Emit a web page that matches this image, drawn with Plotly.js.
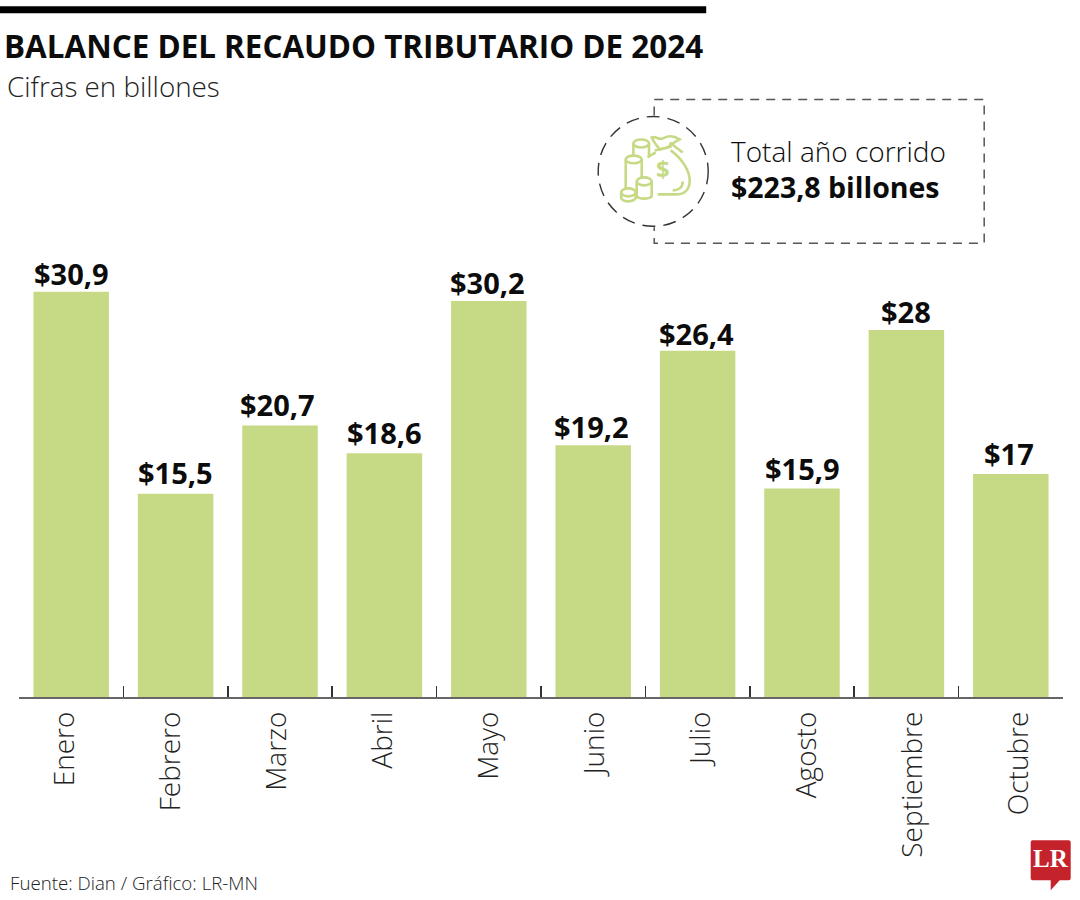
<!DOCTYPE html>
<html><head><meta charset="utf-8">
<script src="https://cdn.plot.ly/plotly-3.0.1.min.js"></script>
<style>html,body{margin:0;padding:0;background:#fff}#c{width:1080px;height:900px}</style>
</head><body><div id="c"></div>
<script>
const months = ["Enero","Febrero","Marzo","Abril","Mayo","Junio","Julio","Agosto","Septiembre","Octubre"];
const values = [30.9,15.5,20.7,18.6,30.2,19.2,26.4,15.9,28,17];
const valueLabels = values.map(v => "$" + String(v).replace(".", ","));
const monthIndex = months.map((m,i) => i);
// small hand-placement offsets of the value labels, in pixels
const labelLift = [1,4,4,3,1,1,0,3,1,3];
const labelNudge = [0,0,-2.5,0.5,-1,-1.5,-1,0,0,-2];
const GREEN = "#c6da85", INK = "#0c0c0c", DASH = "#555555";
const F = "Open Sans";

const L = 19.3, R = 1063.3, T = 106.5, B = 697.5;
const X = p => (p - L) / (R - L);
const Y = p => (B - p) / (B - T);
function P(s){ let i = 0; return s.replace(/-?\d+(\.\d+)?/g, n => { const v = parseFloat(n); const r = (i % 2 === 0) ? X(v) : Y(v); i++; return r.toFixed(5); }); }
const line = (d, color, width, dash, fill) => ({type:"path", xref:"paper", yref:"paper", path:P(d), fillcolor:fill||"rgba(0,0,0,0)", line:{color, width, dash:dash||"solid"}, layer:"above"});
const note = (text, x, y, opts={}) => Object.assign({text, xref:"paper", yref:"paper", x:X(x), y:Y(y), xanchor:"left", yanchor:"middle", showarrow:false, borderpad:0}, opts);
const ell = (cx,cy,rx,ry,c,w) => ({type:"circle", xref:"paper", yref:"paper", x0:X(cx-rx), x1:X(cx+rx), y0:Y(cy+ry), y1:Y(cy-ry), line:{color:c,width:w}, fillcolor:"#fff", layer:"above"});
const IW = 2.6;
const shapes = [
  {type:"rect", xref:"paper", yref:"paper", x0:X(0), x1:X(706.5), y0:Y(12.5), y1:Y(5.5), fillcolor:"#000", line:{width:0}, layer:"above"},
  line("M654.5 115 L654.5 99 L984.5 99 L984.5 243 L654.5 243 L654.5 227", DASH, 1.5, "9px,7px"),
  {type:"circle", xref:"paper", yref:"paper", x0:X(598.5), x1:X(708.5), y0:Y(226), y1:Y(116), line:{color:"#333",width:1.4,dash:"13px,8px"}, layer:"above"},
  // money bag
  line("M671 150 C 682 158 690 170 690 180 C 690 189 685 194 676 194 L 658 194", GREEN, IW),
  line("M656 152 C 653 154 650 155 648 157", GREEN, IW),
  line("M652 137 C 656 135 659 140 663 138 C 667 136 672 134 680 139 C 676 141 672 143 668 147 L 660 149 C 657 145 654 142 652 137 Z", GREEN, IW),
  line("M655 150 L 672 146 M 670 142 L 683 152", GREEN, IW),
  line("M683 181 C 683 187 679 190 673 190", GREEN, IW),
  // coin stacks
  line("M633.7 143 L 633.7 155 M 649.3 143 L 649.3 157", GREEN, IW),
  ell(641.5,143,7.8,4,GREEN,IW),
  line("M626 159 L 626 190 M 642 159 L 642 178", GREEN, IW),
  ell(634,159,8,3.8,GREEN,IW),
  line("M637 181 L 637 196 C 640 199 649 199 652 196 L 652 181", GREEN, IW),
  ell(644.5,181,7.5,4,GREEN,IW),
  line("M621.5 192 L 621.5 198 C 624 202 633 202 636 198 L 636 192", GREEN, IW),
  ell(628.7,192,7.3,4,GREEN,IW),
  // logo
  line("M1033 841 L1069 841 Q1071 841 1071 843 L1071 879 Q1071 881 1069 881 L1060 881 L1051 891 L1051 881 L1033 881 Q1031 881 1031 879 L1031 843 Q1031 841 1033 841 Z", "#c4232b", 0, "solid", "#c4232b")
];
const annotations = [
  note("BALANCE DEL RECAUDO TRIBUTARIO DE 2024", 3.5, 44.5, {font:{family:F,size:31.4,color:INK,weight:700}}),
  note("Cifras en billones", 6.5, 85.5, {font:{family:F,size:27.8,color:"#222",weight:300}}),
  note("Total año corrido", 730, 151, {font:{family:F,size:28,color:INK,weight:300}}),
  note("$223,8 billones", 730, 187, {font:{family:F,size:28.5,color:INK,weight:700}}),
  note("Fuente: Dian / Gráfico: LR-MN", 9.5, 883.5, {font:{family:F,size:18.7,color:"#222",weight:300}}),
  note("LR", 1051, 859, {xanchor:"center", font:{family:"Liberation Serif",size:25,color:"#fff",weight:700}}),
  note("$", 663.5, 168, {xanchor:"center", font:{family:F,size:24,color:GREEN,weight:700}}),
  ...months.map((m,i) => ({text:valueLabels[i], x:m, y:values[i], xref:"x", yref:"y", xanchor:"center", yanchor:"bottom", yshift:-3+labelLift[i], xshift:labelNudge[i], showarrow:false, borderpad:0,
    font:{family:F,size:29,color:INK,weight:700}}))
];
const data = [
  {type:"bar", x:months, y:values, width:0.723, marker:{color:GREEN, line:{width:0}}, hoverinfo:"skip"},
  {type:"scatter", mode:"none", x:monthIndex, y:values, xaxis:"x2", hoverinfo:"skip"}
];
const layout = {width:1080, height:900, paper_bgcolor:"#fff", plot_bgcolor:"#fff", showlegend:false, hovermode:false,
  margin:{l:L, r:1080-R, t:T, b:900-B, pad:0}, font:{family:F},
  xaxis:{type:"category", tickson:"boundaries", ticks:"inside", ticklen:11, tickwidth:1.5, tickcolor:"#333", showline:true, linecolor:"#666", linewidth:2,
    showticklabels:false, automargin:false, showgrid:false, zeroline:false, fixedrange:true},
  // month names sit a little wider apart than the bars, so they have an axis of their own
  xaxis2:{overlaying:"x", anchor:"y", side:"bottom", type:"linear", range:[-0.436,9.413], tickmode:"array", tickvals:monthIndex, ticktext:months, ticks:"",
    tickangle:-90, tickfont:{family:F,size:28,color:"#222",weight:300}, ticklabelstandoff:8, showline:false, automargin:false, showgrid:false, zeroline:false, fixedrange:true},
  yaxis:{range:[0,45], visible:false, showgrid:false, zeroline:false, fixedrange:true},
  shapes, annotations, bargap:0.277};
Plotly.newPlot("c", data, layout, {displayModeBar:false, staticPlot:true});
</script></body></html>
